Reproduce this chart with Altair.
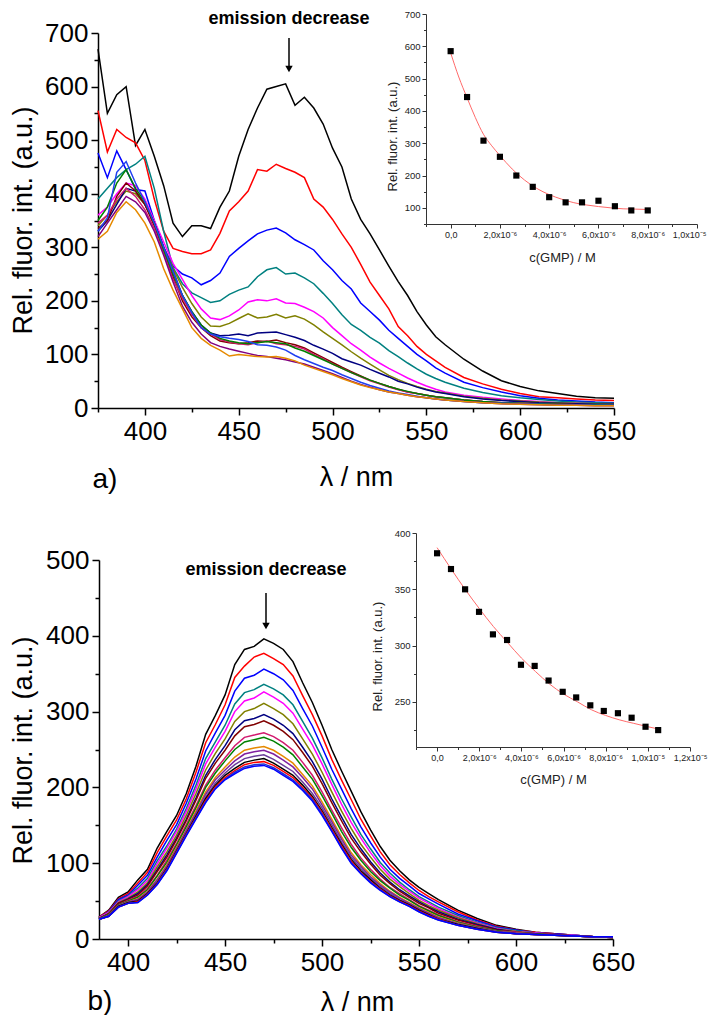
import altair as alt
import pandas as pd

FONT = "Liberation Sans"
W, H = 700, 1007

# ---------------- panel a: spectra ----------------
WL_A = [375, 380, 385, 390, 395, 400, 405, 410, 415, 420, 425, 430, 435, 440, 445, 450, 455,
        460, 465, 470, 475, 480, 485, 490, 495, 500, 505, 510, 515, 520, 525, 530, 535, 540,
        545, 550, 555, 560, 570, 580, 590, 600, 610, 620, 630, 640, 650]

A01 = [670, 550, 585, 600, 490, 520, 470, 415, 345, 320, 340, 340, 335, 375, 405, 470, 520, 560,
       595, 600, 605, 565, 580, 560, 530, 485, 450, 390, 352, 325, 295, 265, 236, 210, 180, 155,
       133, 118, 91, 69, 51, 40, 32, 27, 22, 19, 18]
A02 = [555, 478, 520, 505, 495, 462, 390, 330, 298, 292, 288, 288, 295, 326, 368, 385, 405, 445,
       442, 455, 447, 440, 430, 390, 375, 352, 325, 300, 268, 235, 210, 185, 152, 135, 115, 100,
       88, 76, 57, 45, 35, 27, 21, 19, 17, 15, 14]
A03 = [476, 430, 480, 445, 408, 405, 350, 300, 265, 250, 243, 230, 238, 252, 283, 298, 312, 325,
       332, 336, 327, 314, 305, 295, 275, 258, 238, 222, 196, 180, 164, 145, 130, 115, 100, 88,
       75, 65, 48, 38, 30, 23, 18, 15, 13, 11, 10]
A04 = [390, 410, 430, 445, 455, 470, 410, 330, 262, 232, 215, 206, 197, 200, 212, 220, 226, 245,
       258, 262, 250, 252, 243, 232, 214, 195, 174, 156, 145, 132, 121, 107, 96, 84, 73, 63,
       55, 48, 37, 29, 23, 19, 16, 13, 11, 10, 9]
A05 = [360, 375, 400, 420, 415, 390, 350, 310, 270, 240, 210, 185, 168, 165, 172, 183, 198, 202,
       200, 204, 196, 195, 188, 180, 168, 150, 135, 120, 108, 95, 84, 74, 65, 56, 48, 41,
       35, 30, 24, 20, 17, 14, 12, 10, 9, 8, 8]
A06 = [340, 360, 385, 405, 400, 380, 345, 300, 260, 225, 195, 170, 153, 152, 158, 167, 176, 168,
       170, 175, 168, 172, 166, 155, 142, 130, 118, 105, 93, 82, 71, 61, 53, 46, 40, 35,
       31, 28, 22, 18, 15, 13, 11, 10, 9, 8, 8]
A07 = [330, 350, 380, 410, 405, 380, 345, 300, 255, 210, 180, 155, 140, 135, 136, 138, 135, 140,
       141, 142, 137, 132, 126, 117, 110, 102, 92, 86, 80, 72, 65, 58, 50, 45, 39, 34,
       30, 27, 21, 17, 14, 12, 10, 9, 8, 7, 7]
A08 = [335, 350, 395, 420, 405, 380, 340, 290, 245, 200, 170, 150, 135, 125, 122, 120, 122, 125,
       124, 127, 122, 118, 112, 103, 94, 85, 76, 68, 60, 52, 46, 40, 35, 30, 27, 24,
       21, 19, 15, 12, 10, 9, 8, 7, 6, 6, 5]
A09 = [345, 360, 390, 410, 395, 370, 335, 290, 240, 205, 175, 150, 138, 128, 123, 120, 118, 122,
       125, 120, 118, 115, 110, 100, 92, 82, 74, 66, 58, 51, 45, 39, 34, 30, 27, 24,
       21, 19, 15, 12, 10, 9, 8, 7, 6, 6, 5]
A10 = [350, 375, 420, 445, 410, 385, 345, 295, 250, 210, 180, 155, 140, 130, 125, 122, 120, 122,
       124, 122, 120, 112, 106, 98, 90, 82, 74, 66, 59, 52, 46, 40, 35, 31, 27, 24,
       21, 19, 15, 12, 10, 9, 8, 7, 6, 6, 5]
A11 = [330, 355, 440, 460, 420, 385, 345, 300, 255, 210, 178, 150, 138, 133, 130, 128, 124, 118,
       117, 114, 108, 98, 90, 83, 76, 70, 62, 55, 48, 42, 37, 32, 28, 25, 22, 19,
       17, 15, 12, 10, 9, 8, 7, 6, 6, 5, 5]
A12 = [320, 345, 370, 395, 385, 365, 330, 285, 235, 190, 160, 138, 122, 115, 110, 106, 102, 98,
       96, 93, 90, 86, 82, 76, 70, 64, 57, 50, 44, 39, 34, 30, 27, 24, 21, 19,
       17, 15, 12, 10, 8, 7, 6, 5, 5, 4, 4]
A13 = [315, 330, 365, 385, 370, 345, 310, 260, 220, 185, 150, 130, 117, 108, 97, 100, 98, 96,
       95, 96, 93, 88, 80, 74, 68, 62, 55, 49, 43, 38, 34, 30, 27, 24, 21, 19,
       17, 15, 12, 10, 8, 7, 6, 5, 5, 4, 4]

SERIES_A = [A01, A02, A03, A04, A05, A06, A07, A08, A09, A10, A11, A12, A13]
NAMES_A = [f"a{i:02d}" for i in range(1, 14)]
COLORS_A = ["#000000", "#ff0000", "#0000ff", "#008080", "#ff00ff", "#808000", "#000080",
            "#800000", "#d2196e", "#008000", "#2040f0", "#800080", "#e68a00"]

# ---------------- panel a: inset ----------------
GMP_A = [0.0, 0.667e-6, 1.333e-6, 2.0e-6, 2.667e-6, 3.333e-6, 4.0e-6, 4.667e-6, 5.333e-6,
         6.0e-6, 6.667e-6, 7.333e-6, 8.0e-6]
INT_A = [585, 443, 308, 258, 200, 165, 133, 117, 117, 122, 105, 92, 92]
FIT_A_X = [0.0, 0.33e-6, 0.67e-6, 1.0e-6, 1.33e-6, 1.67e-6, 2.0e-6, 2.5e-6, 3.0e-6, 3.5e-6,
           4.0e-6, 4.5e-6, 5.0e-6, 5.5e-6, 6.0e-6, 6.5e-6, 7.0e-6, 7.5e-6, 8.0e-6]
FIT_A_Y = [580, 505, 440, 380, 328, 292, 262, 220, 186, 160, 141, 127, 116, 109, 104, 100, 97, 96, 95]

# ---------------- panel b: spectra ----------------
WL_B = [385, 390, 395, 400, 405, 410, 415, 420, 425, 430, 435, 440, 445, 450, 455, 460, 465, 470,
        475, 480, 485, 490, 495, 500, 505, 510, 515, 520, 525, 530, 535, 540, 545, 550, 555, 560,
        570, 580, 590, 600, 610, 620, 630, 640, 650]

B01 = [29, 38, 55, 62, 78, 92, 120, 142, 163, 192, 228, 270, 295, 322, 362, 382, 386, 396, 390,
       382, 366, 338, 312, 282, 250, 222, 195, 168, 144, 122, 104, 90, 78, 68, 60, 52,
       38, 27, 18, 13, 9, 7, 5, 3, 2]
B02 = [29, 37, 53, 60, 74, 88, 114, 136, 157, 185, 220, 259, 283, 309, 345, 360, 372, 377, 370,
       362, 347, 321, 296, 268, 237, 210, 184, 158, 136, 115, 98, 85, 74, 64, 56, 49,
       36, 25, 17, 12, 9, 7, 5, 3, 2]
B03 = [28, 36, 52, 58, 71, 84, 108, 130, 151, 179, 211, 248, 272, 295, 327, 344, 348, 356, 350,
       342, 328, 304, 281, 253, 224, 198, 172, 148, 127, 108, 92, 80, 70, 60, 53, 46,
       33, 24, 16, 12, 8, 7, 5, 3, 2]
B04 = [28, 35, 50, 57, 67, 80, 103, 123, 145, 172, 203, 238, 260, 282, 310, 325, 329, 336, 330,
       322, 309, 287, 265, 239, 211, 185, 161, 138, 119, 101, 87, 75, 65, 56, 49, 42,
       31, 22, 15, 11, 8, 6, 5, 3, 2]
B05 = [28, 35, 49, 56, 65, 77, 99, 120, 142, 168, 198, 231, 253, 274, 300, 314, 318, 326, 319,
       311, 298, 277, 256, 231, 204, 178, 154, 133, 114, 97, 83, 72, 63, 54, 47, 40,
       29, 21, 14, 10, 8, 6, 5, 3, 2]
B06 = [27, 34, 48, 54, 62, 74, 95, 115, 137, 163, 192, 223, 245, 264, 287, 300, 304, 311, 304,
       296, 284, 264, 244, 220, 194, 169, 146, 125, 108, 92, 79, 69, 60, 51, 44, 38,
       28, 20, 13, 10, 7, 6, 4, 3, 2]
B07 = [27, 33, 47, 53, 60, 72, 91, 111, 133, 158, 186, 216, 237, 255, 276, 288, 291, 296, 290,
       282, 271, 253, 234, 211, 185, 161, 138, 119, 102, 87, 75, 65, 57, 49, 42, 36,
       26, 19, 13, 9, 7, 6, 4, 3, 2]
B08 = [27, 33, 47, 52, 58, 70, 89, 108, 131, 156, 183, 212, 232, 249, 268, 280, 283, 288, 282,
       274, 263, 246, 228, 205, 180, 156, 133, 115, 99, 84, 73, 63, 55, 47, 41, 34,
       25, 18, 12, 9, 7, 6, 4, 3, 2]
B09 = [27, 32, 45, 51, 56, 67, 84, 104, 126, 151, 176, 203, 223, 239, 255, 266, 269, 272, 267,
       259, 249, 233, 216, 194, 170, 147, 125, 107, 92, 79, 68, 60, 52, 44, 38, 32,
       23, 17, 11, 9, 7, 6, 4, 3, 2]
B10 = [27, 32, 45, 50, 55, 65, 83, 101, 124, 148, 173, 200, 219, 235, 250, 260, 263, 266, 261,
       253, 243, 227, 211, 189, 166, 142, 121, 104, 89, 77, 67, 58, 51, 43, 37, 31,
       22, 16, 11, 8, 7, 5, 4, 3, 2]
B11 = [26, 31, 44, 49, 53, 63, 79, 98, 121, 144, 169, 194, 213, 227, 240, 249, 252, 254, 249,
       241, 232, 217, 202, 181, 158, 135, 114, 98, 85, 73, 63, 55, 48, 41, 35, 29,
       21, 15, 10, 8, 6, 5, 4, 3, 3]
B12 = [26, 31, 44, 49, 52, 62, 78, 96, 119, 143, 166, 191, 210, 223, 235, 244, 247, 249, 244,
       236, 227, 213, 198, 177, 155, 132, 111, 96, 82, 71, 62, 54, 47, 40, 34, 28,
       20, 15, 10, 8, 6, 5, 4, 3, 3]
B13 = [26, 31, 43, 48, 50, 61, 76, 94, 117, 140, 164, 187, 206, 219, 230, 238, 241, 243, 237,
       229, 221, 207, 192, 173, 151, 128, 108, 93, 80, 69, 60, 52, 46, 39, 32, 27,
       20, 14, 10, 7, 6, 5, 4, 3, 3]
B14 = [26, 30, 43, 48, 50, 60, 74, 93, 116, 139, 162, 185, 203, 216, 225, 233, 236, 238, 232,
       224, 216, 203, 188, 169, 147, 125, 105, 90, 78, 67, 58, 51, 45, 38, 32, 26,
       19, 14, 9, 7, 6, 5, 4, 3, 3]
B15 = [26, 30, 42, 47, 49, 59, 73, 92, 115, 138, 160, 183, 201, 213, 222, 230, 233, 234, 229,
       221, 213, 200, 186, 167, 145, 123, 103, 88, 76, 66, 57, 50, 44, 37, 31, 26,
       18, 13, 9, 7, 6, 5, 4, 3, 3]
B16 = [26, 30, 42, 47, 48, 58, 72, 91, 114, 137, 159, 181, 199, 211, 220, 227, 230, 231, 226,
       218, 210, 198, 184, 165, 143, 121, 101, 87, 75, 65, 56, 49, 43, 36, 30, 25,
       18, 13, 9, 7, 6, 5, 4, 3, 3]
B17 = [26, 30, 42, 47, 48, 58, 72, 90, 113, 136, 158, 180, 198, 210, 218, 225, 228, 229, 224,
       216, 208, 196, 182, 163, 142, 120, 100, 86, 74, 64, 56, 49, 43, 36, 30, 25,
       18, 13, 9, 7, 6, 5, 4, 3, 3]

SERIES_B = [B01, B02, B03, B04, B05, B06, B07, B08, B09, B10, B11, B12, B13, B14, B15, B16, B17]
NAMES_B = [f"b{i:02d}" for i in range(1, 18)]
COLORS_B = ["#000000", "#ff0000", "#0000ff", "#008080", "#ff00ff", "#808000", "#000080",
            "#800000", "#d2196e", "#008000", "#e68a00", "#8020a0", "#6a3d9a", "#000000",
            "#ff0000", "#2233cc", "#0000ff"]

# ---------------- panel b: inset ----------------
GMP_B = [0.0, 0.66e-6, 1.33e-6, 1.99e-6, 2.65e-6, 3.32e-6, 3.98e-6, 4.63e-6, 5.29e-6, 5.96e-6,
         6.6e-6, 7.27e-6, 7.91e-6, 8.58e-6, 9.23e-6, 9.89e-6, 10.49e-6]
INT_B = [382, 368, 350, 330, 310, 305, 283, 282, 269, 259, 254, 247, 242, 240, 236, 228, 225]
FIT_B_X = [0.0, 0.67e-6, 1.33e-6, 2.0e-6, 2.67e-6, 3.33e-6, 4.0e-6, 4.67e-6, 5.33e-6, 6.0e-6,
           6.67e-6, 7.33e-6, 8.0e-6, 8.67e-6, 9.33e-6, 10.0e-6, 10.5e-6]
FIT_B_Y = [387, 368, 350, 333, 317, 303, 289, 277, 266, 257, 250, 243, 238, 234, 231, 228, 226]


def spectra_df(wl, names, series):
    rows = []
    for name, vals in zip(names, series):
        for w, v in zip(wl, vals):
            rows.append({"wl": w, "val": v, "curve": name})
    return pd.DataFrame(rows)


def make_axis(orient, offset, values, test, title, tx, ty, big=True, label_expr=None,
              flush=False, flush_offset=0, label_size=None):
    major, minor = (7, 4) if big else (4, 2.5)
    col = "#000000" if big else "#333333"
    return alt.Axis(
        orient=orient, offset=offset, values=values, title=title,
        titleX=tx, titleY=ty, titleAngle=270 if orient == "left" else 0,
        titleAlign="center", titleBaseline="middle",
        titleFont=FONT, titleFontSize=27 if big else 13, titleFontWeight="normal",
        titleColor="#000000" if big else "#222222",
        labelExpr=label_expr if label_expr else f"({test}) ? datum.label : ''",
        labelFont=FONT, labelFontSize=label_size or (26 if big else 9.5),
        labelColor="#000000" if big else "#222222",
        labelPadding=3 if big else 2, labelFlush=flush, labelFlushOffset=flush_offset,
        labelOverlap=False,
        tickSize={"condition": {"test": test, "value": major}, "value": minor},
        tickColor=col, tickWidth=1.5 if big else 1,
        domainColor=col, domainWidth=1.5 if big else 1, grid=False,
    )


ANNOT = alt.Data(values=[{}])


def annotation(px, py_text, py_top, py_head):
    # pixel positions of the "emission decrease" label and its arrow (plot coordinates)
    t = alt.Chart(ANNOT).mark_text(
        text="emission decrease", font=FONT, fontSize=18, fontWeight="bold",
        align="center", baseline="middle", color="black"
    ).encode(x=alt.value(px), y=alt.value(py_text))
    r = alt.Chart(ANNOT).mark_rule(color="black", strokeWidth=1.5).encode(
        x=alt.value(px), y=alt.value(py_top), y2=alt.value(py_head))
    h = alt.Chart(ANNOT).mark_point(shape="triangle-down", filled=True, size=55,
                                    color="black", opacity=1).encode(
        x=alt.value(px), y=alt.value(py_head))
    return [t, r, h]


GMP_LABEL = ("round(datum.value*1e6) % 2 !== 0 ? '' : (round(datum.value*1e6) === 0 ? '0,0' : "
             "(round(datum.value*1e6) >= 10 ? replace(format(datum.value*1e5, '.1f'), '.', ',') + 'x10\u207b\u2075' : "
             "replace(format(datum.value*1e6, '.1f'), '.', ',') + 'x10\u207b\u2076'))")
GMP_TEST = "round(datum.value*1e6) % 2 === 0"

# ---------------- panel a main ----------------
df_a = spectra_df(WL_A, NAMES_A, SERIES_A)
main_a = alt.Chart(df_a).mark_line(strokeWidth=1.5).encode(
    x=alt.X("wl:Q", scale=alt.Scale(domain=[375, 650], range=[90, 606], nice=False, zero=False),
            axis=make_axis("bottom", 400 - H, list(range(375, 651, 25)), "datum.value % 50 === 0",
                           "\u03bb / nm", 348, 69)),
    y=alt.Y("val:Q", scale=alt.Scale(domain=[0, 700], range=[400, 25], nice=False),
            axis=make_axis("left", -90, list(range(0, 701, 50)), "datum.value % 100 === 0",
                           "Rel. fluor. int. (a.u.)", -75, 212)),
    color=alt.Color("curve:N", scale=alt.Scale(domain=NAMES_A, range=COLORS_A), legend=None),
)

# ---------------- panel a inset ----------------
ins_a_x = alt.Scale(domain=[-1e-6, 1e-5], range=[418, 689], nice=False, zero=False)
ins_a_y = alt.Scale(domain=[50, 700], range=[216, 6], nice=False, zero=False)
fit_a = alt.Chart(pd.DataFrame({"c": FIT_A_X, "i": FIT_A_Y})).mark_line(
    color="#ff6a6a", strokeWidth=1, interpolate="monotone").encode(
    x=alt.X("c:Q", scale=ins_a_x,
            axis=make_axis("bottom", 216 - H, [k * 1e-6 for k in range(-1, 11)], GMP_TEST,
                           "c(GMP) / M", 554, 33, big=False, label_expr=GMP_LABEL,
                           flush=True, flush_offset=9, label_size=9)),
    y=alt.Y("i:Q", scale=ins_a_y,
            axis=make_axis("left", -418, list(range(50, 701, 50)), "datum.value % 100 === 0",
                           "Rel. fluor. int. (a.u.)", -34, 128, big=False)),
)
pts_a = alt.Chart(pd.DataFrame({"c": GMP_A, "i": INT_A})).mark_square(
    size=38, color="black", opacity=1).encode(x="c:Q", y="i:Q")
inset_a = alt.layer(fit_a, pts_a)

# ---------------- panel b main ----------------
df_b = spectra_df(WL_B, NAMES_B, SERIES_B)
main_b = alt.Chart(df_b).mark_line(strokeWidth=1.5).encode(
    x=alt.X("wl:Q", scale=alt.Scale(domain=[385, 650], range=[91, 605], nice=False, zero=False),
            axis=make_axis("bottom", 931 - H, list(range(400, 651, 25)), "datum.value % 50 === 0",
                           "\u03bb / nm", 349, 63)),
    y=alt.Y("val:Q", scale=alt.Scale(domain=[0, 500], range=[931, 552], nice=False),
            axis=make_axis("left", -91, list(range(0, 501, 50)), "datum.value % 100 === 0",
                           "Rel. fluor. int. (a.u.)", -76, 742)),
    color=alt.Color("curve:N", scale=alt.Scale(domain=NAMES_B, range=COLORS_B), legend=None),
)

# ---------------- panel b inset ----------------
ins_b_x = alt.Scale(domain=[-1e-6, 1.2e-5], range=[408, 682], nice=False, zero=False)
ins_b_y = alt.Scale(domain=[210, 400], range=[739, 525], nice=False, zero=False)
fit_b = alt.Chart(pd.DataFrame({"c": FIT_B_X, "i": FIT_B_Y})).mark_line(
    color="#ff6a6a", strokeWidth=1, interpolate="monotone").encode(
    x=alt.X("c:Q", scale=ins_b_x,
            axis=make_axis("bottom", 739 - H, [k * 1e-6 for k in range(-1, 13)], GMP_TEST,
                           "c(GMP) / M", 545, 32, big=False, label_expr=GMP_LABEL, label_size=9)),
    y=alt.Y("i:Q", scale=ins_b_y,
            axis=make_axis("left", -408, list(range(225, 401, 25)), "datum.value % 50 === 0",
                           "Rel. fluor. int. (a.u.)", -39, 648, big=False)),
)
pts_b = alt.Chart(pd.DataFrame({"c": GMP_B, "i": INT_B})).mark_square(
    size=38, color="black", opacity=1).encode(x="c:Q", y="i:Q")
inset_b = alt.layer(fit_b, pts_b)

# ---------------- annotations and panel letters ----------------
ann = annotation(281, 11, 30, 61) + annotation(258, 562, 585, 618)
lab_a = alt.Chart(ANNOT).mark_text(text="a)", font=FONT, fontSize=28, align="center",
                                   baseline="middle", color="black").encode(
    x=alt.value(97), y=alt.value(472))
lab_b = alt.Chart(ANNOT).mark_text(text="b)", font=FONT, fontSize=28, align="center",
                                   baseline="middle", color="black").encode(
    x=alt.value(92), y=alt.value(994))

chart = alt.layer(main_a, inset_a, main_b, inset_b, *ann, lab_a, lab_b).resolve_scale(
    x="independent", y="independent", color="independent"
).properties(
    width=W, height=H, padding=0, autosize=alt.AutoSizeParams(type="none"),
    background="white",
).configure_view(stroke=None)

chart.save("out.html", embed_options={"renderer": "svg", "actions": False})
